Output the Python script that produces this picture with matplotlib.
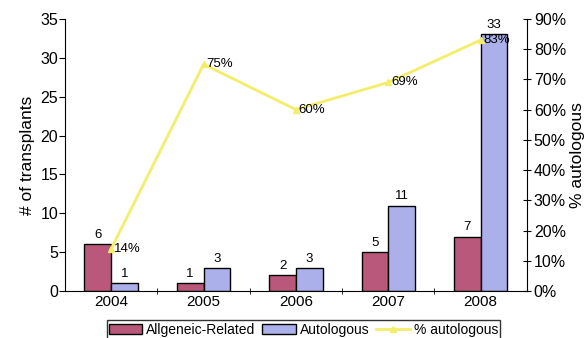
import matplotlib.pyplot as plt
import numpy as np

plt.rcParams['font.family'] = ['Liberation Sans', 'DejaVu Sans']

years = ['2004', '2005', '2006', '2007', '2008']
allogeneic = [6, 1, 2, 5, 7]
autologous = [1, 3, 3, 11, 33]
pct_auto = [14, 75, 60, 69, 83]

red = '#b9587a'
blue = '#abb0ea'
yellow = '#f3ee6a'

fig = plt.figure(figsize=(5.86, 3.38), dpi=100)
ax = fig.add_axes([0.111, 0.139, 0.788, 0.805])
x = np.arange(len(years))
w = 0.29

b1 = ax.bar(x - w / 2, allogeneic, w, color=red, edgecolor='black', linewidth=1,
            label='Allgeneic-Related', zorder=2)
b2 = ax.bar(x + w / 2, autologous, w, color=blue, edgecolor='black', linewidth=1,
            label='Autologous', zorder=2)
for i in range(len(years)):
    ax.text(x[i] - w / 2, allogeneic[i] + 0.4, str(allogeneic[i]), ha='center', va='bottom', fontsize=9.5)
    ax.text(x[i] + w / 2, autologous[i] + 0.4, str(autologous[i]), ha='center', va='bottom', fontsize=9.5)

ax.set_xlim(-0.5, len(years) - 0.5)
ax.set_ylim(0, 35)
ax.set_yticks(range(0, 36, 5))
ax.set_xticks(x)
ax.set_xticklabels(years)
ax.set_xticks(np.arange(0.5, len(years) - 1, 1), minor=True)
ax.tick_params(axis='x', which='major', length=0, labelsize=11, pad=3)
ax.tick_params(axis='x', which='minor', length=4, direction='inout')
ax.tick_params(axis='y', labelsize=11.5, direction='out', length=4, pad=1)
ax.set_ylabel('# of transplants', fontsize=12.5, labelpad=4)
for s in ['top', 'right']:
    ax.spines[s].set_visible(False)

ax2 = ax.twinx()
ax2.set_ylim(0, 90)
ax2.set_yticks(range(0, 91, 10))
ax2.set_yticklabels([f'{v}%' for v in range(0, 91, 10)])
ax2.tick_params(axis='y', labelsize=11.5, direction='inout', length=6, pad=2)
ax2.set_ylabel('% autologous', fontsize=12.5, rotation=90)
ax2.yaxis.label.set_va('center')
ax2.yaxis.set_label_coords(1.11, 0.5)
for s in ['top', 'left', 'bottom']:
    ax2.spines[s].set_visible(False)

ln, = ax2.plot(x, pct_auto, color=yellow, marker='^', markersize=5, linewidth=2,
               label='% autologous', zorder=3)
for i in range(len(years)):
    ax2.text(x[i] + 0.03, pct_auto[i], f'{pct_auto[i]}%', ha='left', va='center', fontsize=9.5)

fig.legend(handles=[b1, b2, ln], loc='lower center', bbox_to_anchor=(0.518, -0.01), ncol=3,
           fontsize=10, frameon=True, fancybox=False, edgecolor='black', handlelength=2.4,
           handletextpad=0.3, columnspacing=0.5, borderpad=0.15, borderaxespad=0.2)

fig.savefig('out.png', dpi=100)
